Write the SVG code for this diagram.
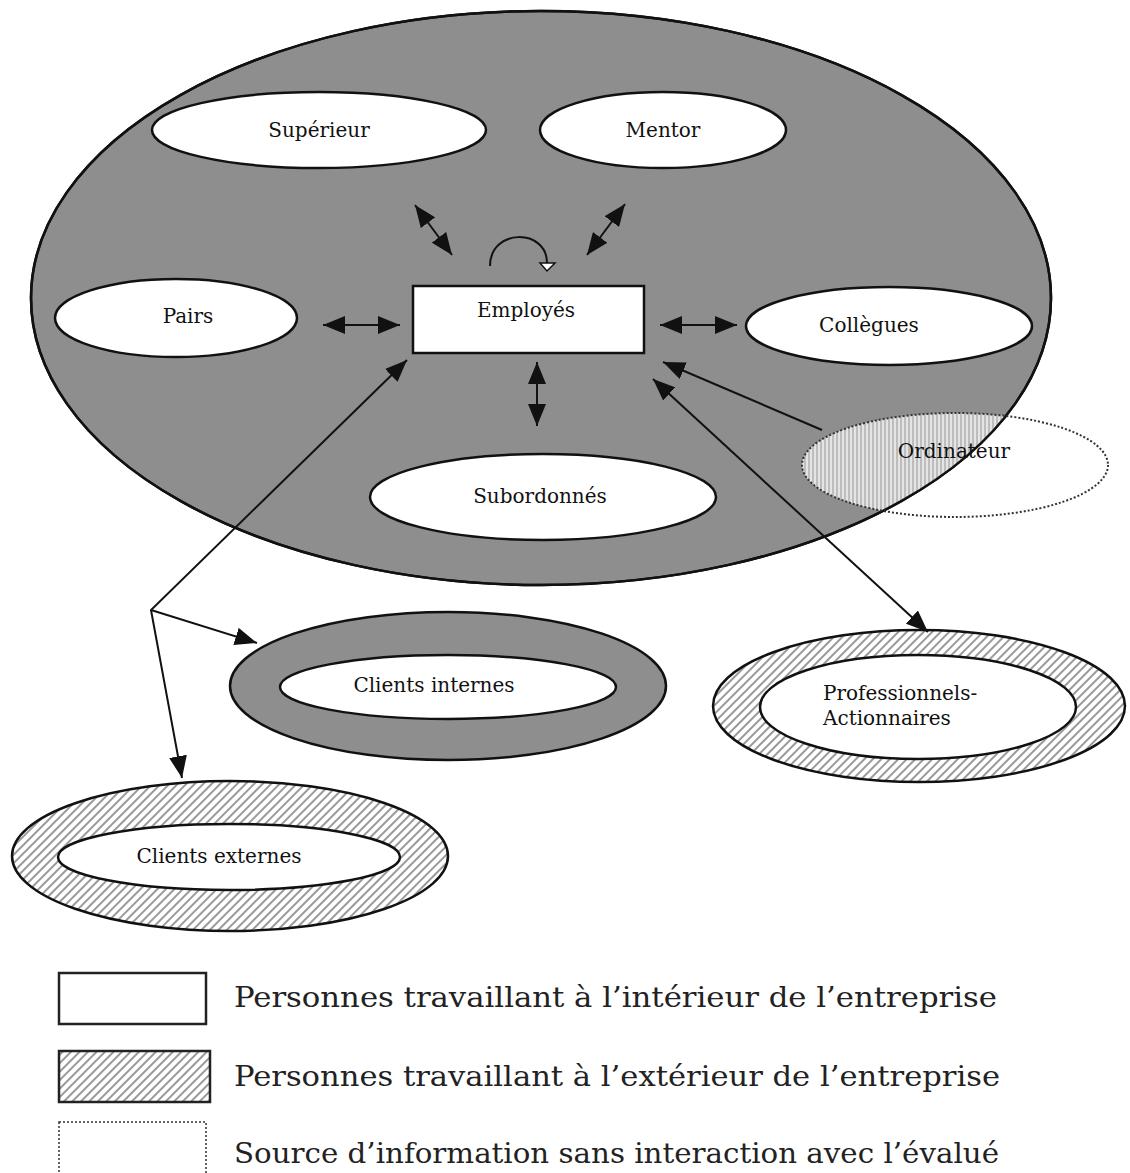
<svg xmlns="http://www.w3.org/2000/svg" width="1130" height="1173" viewBox="0 0 1130 1173">
<style>
.lbl{font-family:"DejaVu Serif","Liberation Serif",serif;font-size:20px;fill:#111;text-anchor:middle}
.leg{font-family:"DejaVu Serif","Liberation Serif",serif;font-size:28px;fill:#222}
.w{fill:#fff;stroke:#111;stroke-width:2.5}
.ln{stroke:#111;stroke-width:2;fill:none}
.ring{fill:url(#hatch);stroke:#111;stroke-width:2.5}
.gray{fill:#8e8e8e;stroke:#111;stroke-width:2.5}
</style>
<defs>
<pattern id="hatch" width="6" height="6" patternUnits="userSpaceOnUse" patternTransform="rotate(45)">
<rect width="6" height="6" fill="#fff"/>
<line x1="2" y1="0" x2="2" y2="6" stroke="#9a9a9a" stroke-width="2"/>
</pattern>
<pattern id="vstripe" width="4" height="4" patternUnits="userSpaceOnUse">
<rect width="4" height="4" fill="#e4e4e4"/>
<rect width="2" height="4" fill="#bdbdbd"/>
</pattern>
<clipPath id="bigclip"><ellipse cx="541" cy="298" rx="510" ry="287"/></clipPath>
<marker id="ah" viewBox="0 0 22 18" refX="22" refY="9" markerWidth="22" markerHeight="18" markerUnits="userSpaceOnUse" orient="auto-start-reverse">
<path d="M0,0 L22,9 L0,18 z" fill="#111"/>
</marker>
</defs>
<rect width="1130" height="1173" fill="#fff"/>

<g id="entreprise">
<ellipse class="gray" cx="541" cy="298" rx="510" ry="287"/>
</g>

<g id="ordinateur-fill">
<ellipse cx="955" cy="465" rx="153" ry="52" fill="url(#vstripe)" clip-path="url(#bigclip)"/>
<ellipse cx="541" cy="298" rx="510" ry="287" fill="none" stroke="#111" stroke-width="2.5"/>
</g>

<g id="superieur"><ellipse class="w" cx="319" cy="130" rx="167" ry="38"/><text class="lbl" x="319" y="137">Supérieur</text></g>
<g id="mentor"><ellipse class="w" cx="663" cy="130" rx="123" ry="38"/><text class="lbl" x="663" y="137">Mentor</text></g>
<g id="pairs"><ellipse class="w" cx="176" cy="318" rx="121" ry="39"/><text class="lbl" x="188" y="323">Pairs</text></g>
<g id="employes"><rect class="w" x="413" y="286" width="231" height="67"/><text class="lbl" x="526" y="317">Employés</text></g>
<g id="collegues"><ellipse class="w" cx="889" cy="326" rx="143" ry="39"/><text class="lbl" x="869" y="332">Collègues</text></g>
<g id="subordonnes"><ellipse class="w" cx="543" cy="497" rx="173" ry="43"/><text class="lbl" x="540" y="503">Subordonnés</text></g>
<g id="ordinateur">
<ellipse cx="955" cy="465" rx="153" ry="52" fill="none" stroke="#333" stroke-width="2" stroke-dasharray="2,2"/>
<text class="lbl" x="954" y="458">Ordinateur</text>
</g>

<g id="clients-internes">
<ellipse class="gray" cx="448" cy="686" rx="218" ry="74"/>
<ellipse class="w" cx="448" cy="687" rx="168" ry="32"/>
<text class="lbl" x="434" y="692">Clients internes</text>
</g>
<g id="professionnels">
<ellipse class="ring" cx="919" cy="706" rx="206" ry="76"/>
<ellipse class="w" cx="918" cy="707" rx="158" ry="52"/>
<text class="lbl" x="823" y="700" style="text-anchor:start">Professionnels-</text>
<text class="lbl" x="823" y="725" style="text-anchor:start">Actionnaires</text>
</g>
<g id="clients-externes">
<ellipse class="ring" cx="230" cy="856" rx="218" ry="75"/>
<ellipse class="w" cx="229" cy="857" rx="171" ry="33"/>
<text class="lbl" x="219" y="863">Clients externes</text>
</g>

<g id="connectors">
<line class="ln" x1="415" y1="205" x2="452" y2="255" marker-start="url(#ah)" marker-end="url(#ah)"/>
<line class="ln" x1="625" y1="204" x2="587" y2="255" marker-start="url(#ah)" marker-end="url(#ah)"/>
<path class="ln" d="M490,266 C490,228 547,228 547,263"/>
<polygon points="540,263 555,263 547,271" fill="#fff" stroke="#111" stroke-width="1.5"/>
<line class="ln" x1="323" y1="325" x2="400" y2="325" marker-start="url(#ah)" marker-end="url(#ah)"/>
<line class="ln" x1="660" y1="325" x2="737" y2="325" marker-start="url(#ah)" marker-end="url(#ah)"/>
<line class="ln" x1="537" y1="362" x2="537" y2="426" marker-start="url(#ah)" marker-end="url(#ah)"/>
<line class="ln" x1="822" y1="430" x2="663" y2="362" marker-end="url(#ah)"/>
<line class="ln" x1="653" y1="379" x2="928" y2="632" marker-start="url(#ah)" marker-end="url(#ah)"/>
<polyline class="ln" points="407,360 151,610 182,778" marker-start="url(#ah)" marker-end="url(#ah)"/>
<line class="ln" x1="151" y1="610" x2="257" y2="643" marker-end="url(#ah)"/>
</g>

<g id="legende">
<rect x="59" y="973" width="147" height="51" fill="#fff" stroke="#222" stroke-width="2.5"/>
<rect x="59" y="1051" width="151" height="51" fill="url(#hatch)" stroke="#222" stroke-width="2.5"/>
<rect x="59" y="1122" width="147" height="60" fill="#fff" stroke="#333" stroke-width="1.5" stroke-dasharray="2,2"/>
<text class="leg" x="234" y="1007" textLength="763" lengthAdjust="spacingAndGlyphs">Personnes travaillant à l’intérieur de l’entreprise</text>
<text class="leg" x="234" y="1086" textLength="766" lengthAdjust="spacingAndGlyphs">Personnes travaillant à l’extérieur de l’entreprise</text>
<text class="leg" x="234" y="1163" textLength="765" lengthAdjust="spacingAndGlyphs">Source d’information sans interaction avec l’évalué</text>
</g>
</svg>
